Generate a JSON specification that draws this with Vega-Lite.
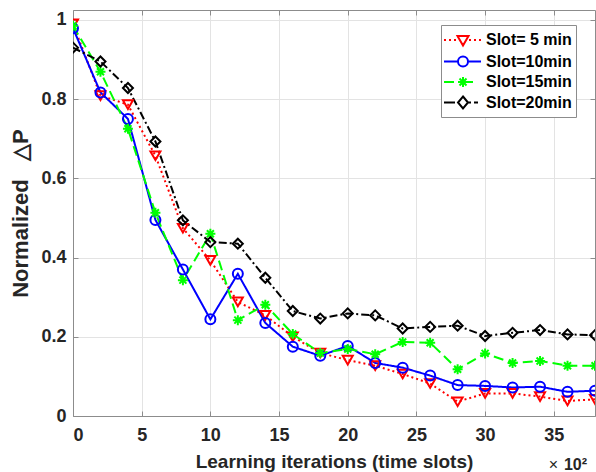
{
  "$schema": "https://vega.github.io/schema/vega-lite/v6.json",
  "width": 522,
  "height": 406,
  "autosize": {"type": "none"},
  "padding": {"left": 73, "top": 10, "right": 1, "bottom": 56},
  "background": "white",
  "config": {"view": {"stroke": null}, "font": "Liberation Sans"},
  "data": {"values": [
    {"s": "Slot= 5 min", "x": 0, "y": 0.99}, {"s": "Slot= 5 min", "x": 2, "y": 0.809}, {"s": "Slot= 5 min", "x": 4, "y": 0.786}, {"s": "Slot= 5 min", "x": 6, "y": 0.657}, {"s": "Slot= 5 min", "x": 8, "y": 0.474}, {"s": "Slot= 5 min", "x": 10, "y": 0.393}, {"s": "Slot= 5 min", "x": 12, "y": 0.288}, {"s": "Slot= 5 min", "x": 14, "y": 0.254}, {"s": "Slot= 5 min", "x": 16, "y": 0.2}, {"s": "Slot= 5 min", "x": 18, "y": 0.159}, {"s": "Slot= 5 min", "x": 20, "y": 0.141}, {"s": "Slot= 5 min", "x": 22, "y": 0.127}, {"s": "Slot= 5 min", "x": 24, "y": 0.106}, {"s": "Slot= 5 min", "x": 26, "y": 0.082}, {"s": "Slot= 5 min", "x": 28, "y": 0.036}, {"s": "Slot= 5 min", "x": 30, "y": 0.057}, {"s": "Slot= 5 min", "x": 32, "y": 0.057}, {"s": "Slot= 5 min", "x": 34, "y": 0.049}, {"s": "Slot= 5 min", "x": 36, "y": 0.038}, {"s": "Slot= 5 min", "x": 38, "y": 0.042},
    {"s": "Slot=10min", "x": 0, "y": 0.979}, {"s": "Slot=10min", "x": 2, "y": 0.817}, {"s": "Slot=10min", "x": 4, "y": 0.75}, {"s": "Slot=10min", "x": 6, "y": 0.495}, {"s": "Slot=10min", "x": 8, "y": 0.37}, {"s": "Slot=10min", "x": 10, "y": 0.244}, {"s": "Slot=10min", "x": 12, "y": 0.359}, {"s": "Slot=10min", "x": 14, "y": 0.235}, {"s": "Slot=10min", "x": 16, "y": 0.175}, {"s": "Slot=10min", "x": 18, "y": 0.152}, {"s": "Slot=10min", "x": 20, "y": 0.177}, {"s": "Slot=10min", "x": 22, "y": 0.134}, {"s": "Slot=10min", "x": 24, "y": 0.122}, {"s": "Slot=10min", "x": 26, "y": 0.102}, {"s": "Slot=10min", "x": 28, "y": 0.078}, {"s": "Slot=10min", "x": 30, "y": 0.076}, {"s": "Slot=10min", "x": 32, "y": 0.072}, {"s": "Slot=10min", "x": 34, "y": 0.074}, {"s": "Slot=10min", "x": 36, "y": 0.061}, {"s": "Slot=10min", "x": 38, "y": 0.064},
    {"s": "Slot=15min", "x": 0, "y": 0.985}, {"s": "Slot=15min", "x": 2, "y": 0.869}, {"s": "Slot=15min", "x": 4, "y": 0.725}, {"s": "Slot=15min", "x": 6, "y": 0.513}, {"s": "Slot=15min", "x": 8, "y": 0.343}, {"s": "Slot=15min", "x": 10, "y": 0.46}, {"s": "Slot=15min", "x": 12, "y": 0.242}, {"s": "Slot=15min", "x": 14, "y": 0.281}, {"s": "Slot=15min", "x": 16, "y": 0.207}, {"s": "Slot=15min", "x": 18, "y": 0.159}, {"s": "Slot=15min", "x": 20, "y": 0.169}, {"s": "Slot=15min", "x": 22, "y": 0.156}, {"s": "Slot=15min", "x": 24, "y": 0.187}, {"s": "Slot=15min", "x": 26, "y": 0.185}, {"s": "Slot=15min", "x": 28, "y": 0.118}, {"s": "Slot=15min", "x": 30, "y": 0.158}, {"s": "Slot=15min", "x": 32, "y": 0.134}, {"s": "Slot=15min", "x": 34, "y": 0.139}, {"s": "Slot=15min", "x": 36, "y": 0.127}, {"s": "Slot=15min", "x": 38, "y": 0.127},
    {"s": "Slot=20min", "x": 0, "y": 0.93}, {"s": "Slot=20min", "x": 2, "y": 0.895}, {"s": "Slot=20min", "x": 4, "y": 0.828}, {"s": "Slot=20min", "x": 6, "y": 0.693}, {"s": "Slot=20min", "x": 8, "y": 0.494}, {"s": "Slot=20min", "x": 10, "y": 0.439}, {"s": "Slot=20min", "x": 12, "y": 0.435}, {"s": "Slot=20min", "x": 14, "y": 0.349}, {"s": "Slot=20min", "x": 16, "y": 0.265}, {"s": "Slot=20min", "x": 18, "y": 0.246}, {"s": "Slot=20min", "x": 20, "y": 0.259}, {"s": "Slot=20min", "x": 22, "y": 0.254}, {"s": "Slot=20min", "x": 24, "y": 0.221}, {"s": "Slot=20min", "x": 26, "y": 0.225}, {"s": "Slot=20min", "x": 28, "y": 0.228}, {"s": "Slot=20min", "x": 30, "y": 0.202}, {"s": "Slot=20min", "x": 32, "y": 0.21}, {"s": "Slot=20min", "x": 34, "y": 0.217}, {"s": "Slot=20min", "x": 36, "y": 0.206}, {"s": "Slot=20min", "x": 38, "y": 0.204}
  ]},
  "layer": [
    {
      "mark": {"type": "line", "strokeWidth": 2, "clip": true},
      "encoding": {
        "x": {"field": "x", "type": "quantitative", "scale": {"domain": [0, 38], "nice": false, "zero": false},
          "axis": {"orient": "bottom", "values": [0, 5, 10, 15, 20, 25, 30, 35], "grid": true, "gridColor": "#e3e3e3", "domainColor": "#8c8c8c", "tickColor": "#8c8c8c", "tickSize": -5, "labelPadding": 15, "labelFont": "Liberation Sans", "labelFontSize": 18, "labelFontWeight": "bold", "labelColor": "#262626", "title": "Learning iterations (time slots)", "titleFont": "Liberation Sans", "titleFontSize": 19, "titleFontWeight": "bold", "titleColor": "#262626", "titlePadding": 8}},
        "y": {"field": "y", "type": "quantitative", "scale": {"domain": [0, 1.025], "nice": false},
          "axis": {"orient": "left", "values": [0, 0.2, 0.4, 0.6, 0.8, 1], "format": ".1~f", "grid": true, "gridColor": "#e3e3e3", "domainColor": "#8c8c8c", "tickColor": "#8c8c8c", "tickSize": -5, "labelPadding": 12, "labelFont": "Liberation Sans", "labelFontSize": 18, "labelFontWeight": "bold", "labelColor": "#262626", "title": "Normalized \u00a0\u00a0\u25b3P", "titleFont": "Liberation Sans", "titleFontSize": 22, "titleFontWeight": "bold", "titleColor": "#262626", "titlePadding": 8}},
        "color": {"field": "s", "type": "nominal",
          "scale": {"domain": ["Slot= 5 min", "Slot=10min", "Slot=15min", "Slot=20min"], "range": ["#ff0000", "#0000ff", "#00ff00", "#000000"]},
          "legend": null},
        "strokeDash": {"field": "s", "type": "nominal",
          "scale": {"domain": ["Slot= 5 min", "Slot=10min", "Slot=15min", "Slot=20min"], "range": [[2, 3], [1, 0], [10, 5], [8, 3, 2, 3]]},
          "legend": null}
      }
    },
    {
      "mark": {"type": "point", "filled": false, "strokeWidth": 2, "size": 100, "opacity": 1, "clip": true},
      "encoding": {
        "x": {"field": "x", "type": "quantitative",
          "axis": {"orient": "top", "values": [0, 5, 10, 15, 20, 25, 30, 35], "labels": false, "title": null, "grid": false, "domainColor": "#8c8c8c", "tickColor": "#8c8c8c", "tickSize": -5}},
        "y": {"field": "y", "type": "quantitative",
          "axis": {"orient": "right", "values": [0, 0.2, 0.4, 0.6, 0.8, 1], "labels": false, "title": null, "grid": false, "domainColor": "#8c8c8c", "tickColor": "#8c8c8c", "tickSize": -5}},
        "color": {"field": "s", "type": "nominal",
          "scale": {"domain": ["Slot= 5 min", "Slot=10min", "Slot=15min", "Slot=20min"], "range": ["#ff0000", "#0000ff", "#00ff00", "#000000"]},
          "legend": null},
        "shape": {"field": "s", "type": "nominal",
          "scale": {"domain": ["Slot= 5 min", "Slot=10min", "Slot=15min", "Slot=20min"], "range": ["triangle-down", "circle", "M0,-1L0,1M-1,0L1,0M-0.7,-0.7L0.7,0.7M-0.7,0.7L0.7,-0.7", "diamond"]},
          "legend": null}
      }
    },
    {
      "data": {"values": []},
      "mark": {"type": "point", "filled": false, "strokeWidth": 2, "size": 400, "opacity": 1},
      "encoding": {
        "x": {"field": "x", "type": "quantitative", "axis": null},
        "y": {"field": "y", "type": "quantitative", "axis": null},
        "color": {"field": "s", "type": "nominal",
          "scale": {"domain": ["Slot= 5 min", "Slot=10min", "Slot=15min", "Slot=20min"], "range": ["#ff0000", "#0000ff", "#00ff00", "#000000"]},
          "legend": {"orient": "none", "legendX": 368, "legendY": 15, "title": null, "padding": 4, "fillColor": "white", "strokeColor": "#8c8c8c", "symbolSize": 400, "symbolOffset": 7, "labelOffset": 12, "rowPadding": 0.5, "labelFont": "Liberation Sans", "labelFontSize": 16, "labelFontWeight": "bold", "labelColor": "#000000", "symbolStrokeWidth": 2, "labelLimit": 200}},
        "shape": {"field": "s", "type": "nominal",
          "scale": {"domain": ["Slot= 5 min", "Slot=10min", "Slot=15min", "Slot=20min"], "range": [
            "M-1.9,0L-1.7,0M-1.4,0L-1.2,0M-0.9,0L-0.7,0M0.6,0L0.8,0M1.1,0L1.3,0M1.6,0L1.8,0M-0.55,-0.4L0.55,-0.4L0,0.55Z",
            "M-1.9,0L-0.5,0M0.5,0L1.8,0M-0.5,0A0.5,0.5 0 1,0 0.5,0A0.5,0.5 0 1,0 -0.5,0Z",
            "M-1.9,0L-0.9,0M0.5,0L1.0,0M0,-0.5L0,0.5M-0.5,0L0.5,0M-0.35,-0.35L0.35,0.35M-0.35,0.35L0.35,-0.35",
            "M-1.9,0L-0.8,0M0.5,0L0.8,0M1.1,0L1.5,0M0,-0.6L0.5,0L0,0.6L-0.5,0Z"]},
          "legend": {"orient": "none", "legendX": 368, "legendY": 15, "title": null, "padding": 4, "fillColor": "white", "strokeColor": "#8c8c8c", "symbolSize": 400, "symbolOffset": 7, "labelOffset": 12, "rowPadding": 0.5, "labelFont": "Liberation Sans", "labelFontSize": 16, "labelFontWeight": "bold", "labelColor": "#000000", "symbolStrokeWidth": 2, "labelLimit": 200}}
      }
    },
    {
      "data": {"values": [{"t": "10²"}]},
      "mark": {"type": "text", "align": "right", "baseline": "alphabetic", "dx": -8, "dy": 54, "font": "Liberation Sans", "fontSize": 16, "fontWeight": "bold", "color": "#262626"},
      "encoding": {
        "x": {"datum": 38, "type": "quantitative", "axis": null},
        "y": {"datum": 0, "type": "quantitative", "axis": null},
        "text": {"field": "t"}
      }
    },
    {
      "data": {"values": [{"t": "×"}]},
      "mark": {"type": "text", "align": "right", "baseline": "alphabetic", "dx": -37, "dy": 54, "font": "Liberation Sans", "fontSize": 16, "fontWeight": "normal", "color": "#262626"},
      "encoding": {
        "x": {"datum": 38, "type": "quantitative", "axis": null},
        "y": {"datum": 0, "type": "quantitative", "axis": null},
        "text": {"field": "t"}
      }
    }
  ],
  "resolve": {"axis": {"x": "independent", "y": "independent"}, "scale": {"color": "independent", "shape": "independent", "strokeDash": "independent"}}
}
